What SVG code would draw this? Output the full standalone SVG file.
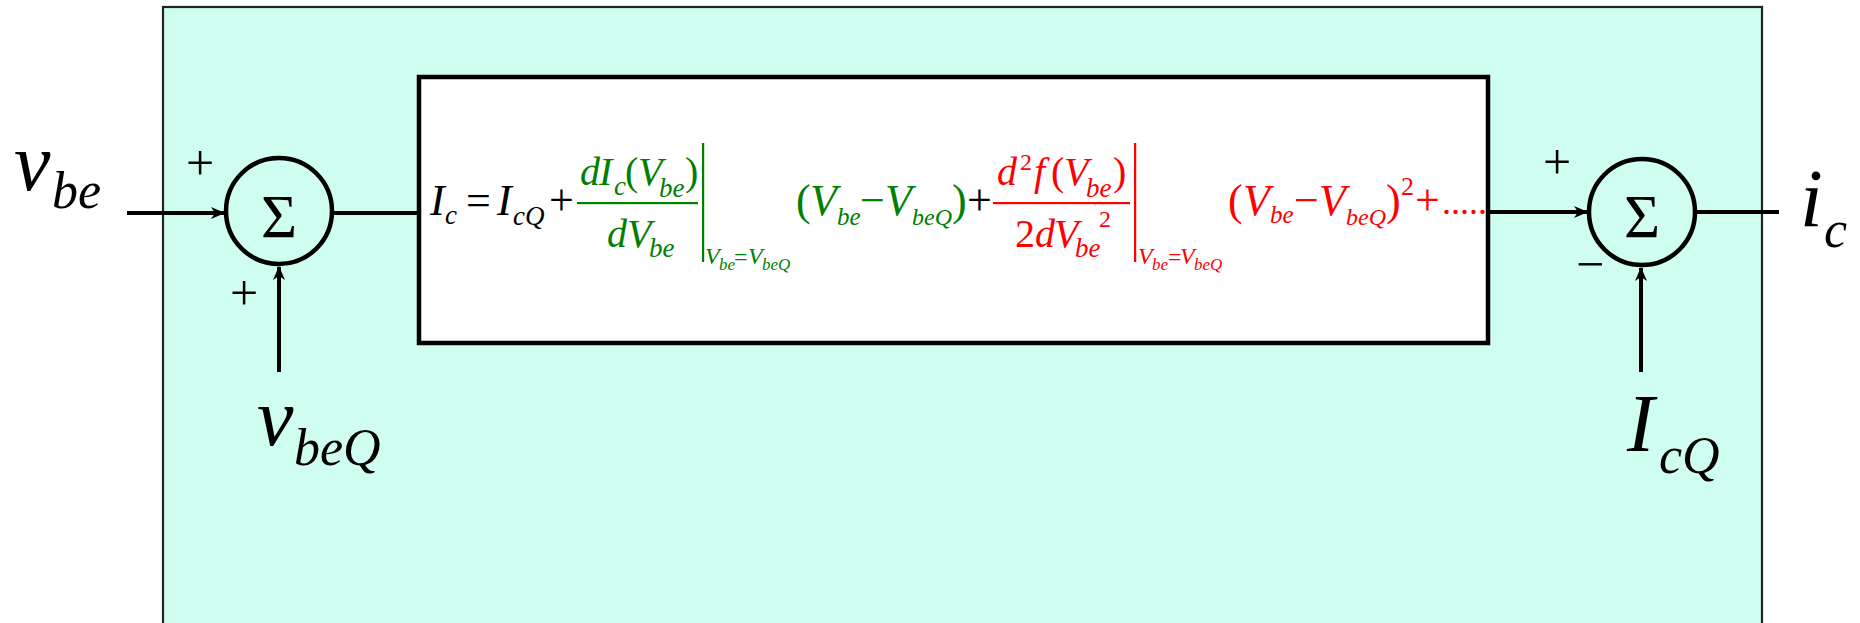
<svg xmlns="http://www.w3.org/2000/svg" width="1860" height="623" viewBox="0 0 1860 623">
<style>
.i{font-family:"Liberation Serif","Times New Roman",serif;font-style:italic}
.u{font-family:"Liberation Serif","Times New Roman",serif}
.g{fill:#008000}
.rd{fill:#ff0000}
.ln{stroke:#000;stroke-width:4;fill:none}
.sum{fill:none;stroke:#000;stroke-width:4.5}
</style>
<defs>
<marker id="arr" markerWidth="14" markerHeight="12" refX="13" refY="6" orient="auto" markerUnits="userSpaceOnUse">
<path d="M0,0 L14,6 L0,12 L4,6 Z" fill="#000"/>
</marker>
</defs>
<rect width="1860" height="623" fill="#fff"/>
<g id="background">
<rect x="163" y="7" width="1599" height="640" fill="#cffdf0" stroke="#222" stroke-width="2.2"/>
</g>
<g id="connectors">
<line class="ln" x1="127" y1="213" x2="224" y2="213" marker-end="url(#arr)"/>
<line class="ln" x1="279" y1="372" x2="279" y2="267" marker-end="url(#arr)"/>
<line class="ln" x1="333" y1="213" x2="419" y2="213"/>
<line class="ln" x1="1488" y1="212" x2="1587" y2="212" marker-end="url(#arr)"/>
<line class="ln" x1="1641" y1="372" x2="1641" y2="268" marker-end="url(#arr)"/>
<line class="ln" x1="1695" y1="212" x2="1779" y2="212"/>
</g>
<g id="sum1">
<circle class="sum" cx="279" cy="211" r="53"/>
<text class="u" x="279" y="237" font-size="62" text-anchor="middle">Σ</text>
<text class="u" x="200" y="180" font-size="50" text-anchor="middle">+</text>
<text class="u" x="244" y="310" font-size="50" text-anchor="middle">+</text>
</g>
<g id="sum2">
<circle class="sum" cx="1642" cy="212" r="53"/>
<text class="u" x="1642" y="237" font-size="62" text-anchor="middle">Σ</text>
<text class="u" x="1557" y="179" font-size="50" text-anchor="middle">+</text>
<text class="u" x="1590" y="281" font-size="50" text-anchor="middle">−</text>
</g>
<g id="label-vbe">
<text class="i" x="14" y="190" font-size="82">v</text>
<text class="i" x="52" y="208" font-size="52">be</text>
</g>
<g id="label-vbeQ">
<text class="i" x="257" y="445" font-size="82">v</text>
<text class="i" x="294" y="465" font-size="52">beQ</text>
</g>
<g id="label-ic">
<text class="i" x="1800" y="226" font-size="82">i</text>
<text class="i" x="1824" y="247" font-size="52">c</text>
</g>
<g id="label-IcQ">
<text class="i" x="1627" y="451" font-size="82">I</text>
<text class="i" x="1659" y="473" font-size="52">cQ</text>
</g>
<g id="taylor-box">
<rect x="419" y="77" width="1069" height="266" fill="#fff" stroke="#000" stroke-width="4.5"/>
<text class="i" x="430" y="215" font-size="44">I</text>
<text class="i" x="445" y="224" font-size="27">c</text>
<text class="u" x="466" y="215" font-size="44">=</text>
<text class="i" x="497" y="215" font-size="44">I</text>
<text class="i" x="513" y="225" font-size="27">cQ</text>
<text class="u" x="549" y="215" font-size="44">+</text>
<g class="g">
<text class="i" x="580" y="185" font-size="40">d</text>
<text class="i" x="599" y="185" font-size="40">I</text>
<text class="i" x="614" y="195" font-size="27">c</text>
<text class="u" x="625" y="185" font-size="40">(</text>
<text class="i" x="638" y="185" font-size="40">V</text>
<text class="i" x="659" y="197" font-size="27">be</text>
<text class="u" x="685" y="185" font-size="40">)</text>
<rect x="577" y="202" width="121" height="2.2"/>
<text class="i" x="607" y="247" font-size="40">d</text>
<text class="i" x="627" y="247" font-size="40">V</text>
<text class="i" x="649" y="257" font-size="27">be</text>
<rect x="702" y="143" width="2.2" height="119"/>
<text class="i" x="705" y="264" font-size="24">V</text>
<text class="i" x="719" y="270" font-size="17">be</text>
<text class="u" x="734" y="265" font-size="24">=</text>
<text class="i" x="748" y="264" font-size="24">V</text>
<text class="i" x="762" y="270" font-size="17">beQ</text>
<text class="u" x="796" y="215" font-size="44">(</text>
<text class="i" x="810" y="215" font-size="44">V</text>
<text class="i" x="837" y="225" font-size="25">be</text>
<text class="u" x="860" y="215" font-size="44">−</text>
<text class="i" x="885" y="215" font-size="44">V</text>
<text class="i" x="912" y="225" font-size="24">beQ</text>
<text class="u" x="952" y="215" font-size="44">)</text>
</g>
<text class="u" x="967" y="215" font-size="44">+</text>
<g class="rd">
<text class="i" x="997" y="185" font-size="40">d</text>
<text class="u" x="1020" y="170" font-size="24">2</text>
<text class="i" x="1034" y="185" font-size="40">f</text>
<text class="u" x="1051" y="185" font-size="40">(</text>
<text class="i" x="1064" y="185" font-size="40">V</text>
<text class="i" x="1086" y="197" font-size="27">be</text>
<text class="u" x="1113" y="185" font-size="40">)</text>
<rect x="993" y="202" width="137" height="2.2"/>
<text class="u" x="1015" y="247" font-size="40">2</text>
<text class="i" x="1035" y="247" font-size="40">d</text>
<text class="i" x="1054" y="247" font-size="40">V</text>
<text class="i" x="1075" y="257" font-size="27">be</text>
<text class="u" x="1099" y="227" font-size="24">2</text>
<rect x="1134" y="143" width="2.2" height="119"/>
<text class="i" x="1138" y="264" font-size="24">V</text>
<text class="i" x="1152" y="270" font-size="17">be</text>
<text class="u" x="1168" y="265" font-size="24">=</text>
<text class="i" x="1180" y="264" font-size="24">V</text>
<text class="i" x="1194" y="270" font-size="17">beQ</text>
<text class="u" x="1228" y="215" font-size="44">(</text>
<text class="i" x="1243" y="215" font-size="44">V</text>
<text class="i" x="1270" y="223" font-size="25">be</text>
<text class="u" x="1294" y="215" font-size="44">−</text>
<text class="i" x="1319" y="215" font-size="44">V</text>
<text class="i" x="1346" y="225" font-size="24">beQ</text>
<text class="u" x="1386" y="215" font-size="44">)</text>
<text class="u" x="1401" y="195" font-size="26">2</text>
<text class="u" x="1415" y="215" font-size="44">+</text>
<text class="u" x="1442" y="214" font-size="36">.....</text>
</g>
</g>
</svg>
